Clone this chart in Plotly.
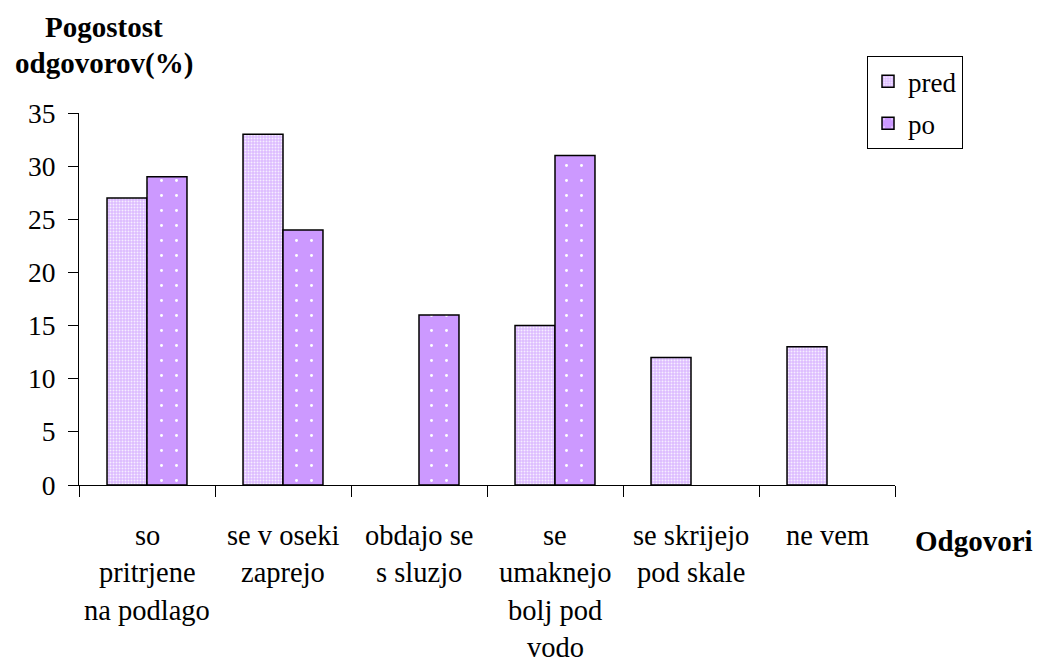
import plotly.graph_objects as go

# Answer categories (each line of a label is one list item)
categories = ["so pritrjene na podlago", "se v oseki zaprejo", "obdajo se s sluzjo",
              "se umaknejo bolj pod vodo", "se skrijejo pod skale", "ne vem"]
category_lines = [["so", "pritrjene", "na podlago"],
                  ["se v oseki", "zaprejo"],
                  ["obdajo se", "s sluzjo"],
                  ["se", "umaknejo", "bolj pod", "vodo"],
                  ["se skrijejo", "pod skale"],
                  ["ne vem"]]

# Response frequency (%) before and after
pred = [27, 33, None, 15, 12, 13]
po = [29, 24, 16, 31, None, None]

y_ticks = [0, 5, 10, 15, 20, 25, 30, 35]

SERIF = "Times New Roman"

fig = go.Figure()
fig.add_trace(go.Bar(
    x=categories, y=pred, name="pred", legendgroup="a",
    marker=dict(color="#DDBBFF",
                line=dict(color="black", width=1.5),
                pattern=dict(shape=".", size=3, solidity=0.35,
                             fgcolor="#F6EEFF", bgcolor="#DCBBFF", fillmode="replace")),
))
fig.add_trace(go.Bar(
    x=categories, y=po, name="po", legendgroup="b",
    marker=dict(color="#CC99FF",
                line=dict(color="black", width=1.5),
                pattern=dict(shape=".", size=15, solidity=0.03,
                             fgcolor="white", bgcolor="#CC99FF", fillmode="replace")),
))

# Multi-line category labels under the axis
line_step = 37.5
for cat, lines in zip(categories, category_lines):
    for i, txt in enumerate(lines):
        fig.add_annotation(x=cat, xref="x", y=0, yref="paper",
                           text=txt, showarrow=False, xanchor="center", yanchor="middle",
                           yshift=-(50 + i * line_step),
                           font=dict(family=SERIF, size=28.5, color="black"))

# Axis titles
fig.add_annotation(x=1.0, xref="paper", y=0, yref="paper", xanchor="left", yanchor="middle",
                   xshift=18, yshift=-56, showarrow=False, text="<b>Odgovori</b>",
                   font=dict(family=SERIF, size=29, color="black"))
fig.add_annotation(x=0, xref="paper", y=1, yref="paper", xanchor="center", yanchor="middle",
                   xshift=25, yshift=86, showarrow=False, text="<b>Pogostost</b>",
                   font=dict(family=SERIF, size=29, color="black"))
fig.add_annotation(x=0, xref="paper", y=1, yref="paper", xanchor="center", yanchor="middle",
                   xshift=25, yshift=50, showarrow=False, text="<b>odgovorov(%)</b>",
                   font=dict(family=SERIF, size=29, color="black"))

fig.update_layout(
    width=1037, height=666,
    margin=dict(l=79, r=142, t=113, b=181),
    paper_bgcolor="white", plot_bgcolor="white",
    barmode="group", bargap=0.412, bargroupgap=0,
    font=dict(family=SERIF, size=27, color="black"),
    showlegend=True,
    legend=dict(x=0.9657, y=1.153, xanchor="left", yanchor="top",
                bgcolor="white", bordercolor="black", borderwidth=1,
                font=dict(family=SERIF, size=27, color="black"),
                tracegroupgap=4, itemwidth=30),
    xaxis=dict(type="category", showline=True, linecolor="black", linewidth=1,
               ticks="outside", tickson="boundaries", ticklen=11, tickcolor="black",
               showticklabels=False, showgrid=False, zeroline=False),
    yaxis=dict(range=[0, 35], tickvals=y_ticks, ticktext=[str(v) for v in y_ticks],
               showline=True, linecolor="black", linewidth=1,
               ticks="outside", ticklen=10, tickcolor="black",
               ticklabelstandoff=7, showgrid=False, zeroline=False,
               tickfont=dict(family=SERIF, size=27.5, color="black")),
)

fig.write_html("out.html")
